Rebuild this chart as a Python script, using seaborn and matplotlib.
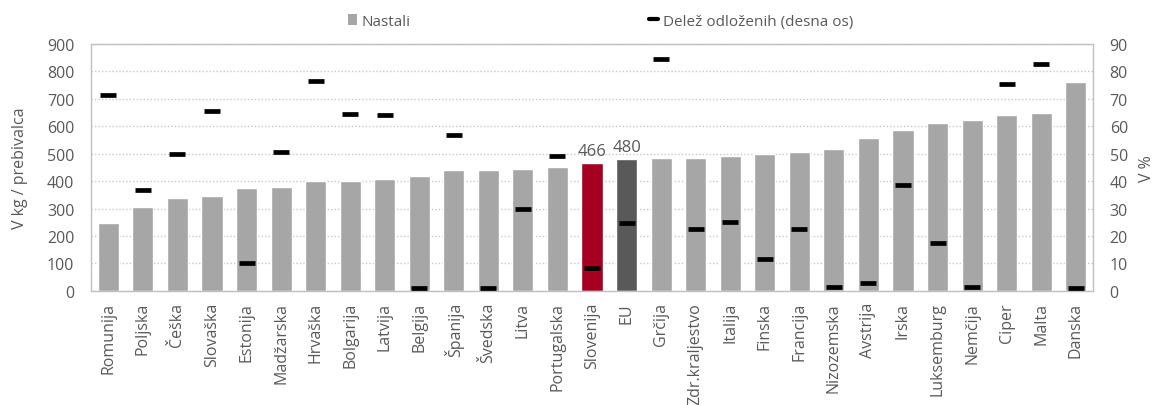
import matplotlib
matplotlib.use("Agg")
import matplotlib.pyplot as plt
from matplotlib.lines import Line2D
from matplotlib.patches import Patch
import seaborn as sns
import pandas as pd

# Municipal waste generated per capita (kg) and share landfilled (%)
countries = ["Romunija", "Poljska", "Češka", "Slovaška", "Estonija", "Madžarska",
             "Hrvaška", "Bolgarija", "Latvija", "Belgija", "Španija", "Švedska",
             "Litva", "Portugalska", "Slovenija", "EU", "Grčija", "Zdr.kraljestvo",
             "Italija", "Finska", "Francija", "Nizozemska", "Avstrija", "Irska",
             "Luksemburg", "Nemčija", "Ciper", "Malta", "Danska"]
generated = [247, 306, 339, 345, 375, 379, 401, 401, 407, 418, 440, 440, 444, 450,
             466, 480, 483, 483, 493, 500, 508, 518, 558, 585, 614, 624, 641, 647, 763]
landfilled = [71.4, 36.7, 49.9, 65.6, 10.3, 50.7, 76.7, 64.6, 64.2, 1.2, 56.8, 0.9,
              29.9, 49.3, 8.4, 24.8, 84.5, 22.7, 25.1, 11.6, 22.7, 1.5, 3.0, 38.6,
              17.3, 1.5, 75.4, 82.9, 1.1]
labelled = ["Slovenija", "EU"]

df = pd.DataFrame({"country": countries, "generated": generated, "landfilled": landfilled})

grey = "#A6A6A6"
highlight = {"Slovenija": "#A50021", "EU": "#595959"}
palette = {c: highlight.get(c, grey) for c in countries}
text_col = "#595959"

sns.set_theme(style="white")
plt.rcParams["font.family"] = ["Open Sans", "DejaVu Sans"]

fig = plt.figure(figsize=(11.57, 4.06), dpi=100)
ax = fig.add_axes([0.0787, 0.281, 0.8660, 0.608])

sns.barplot(data=df, x="country", y="generated", hue="country", palette=palette,
            order=countries, width=0.61, legend=False, ax=ax, saturation=1)
ax.set_ylim(0, 900)
ax.set_yticks(range(0, 901, 100))
ax.set_xlim(-0.5, len(countries) - 0.5)
ax.yaxis.grid(True, linestyle=(0, (1, 1.5)), color="#C8C8C8", linewidth=1.0)
ax.set_axisbelow(True)
for s in ax.spines.values():
    s.set_color("#C0C0C0")
    s.set_linewidth(1.0)
ax.tick_params(axis="y", length=0, colors=text_col, labelsize=11.5, pad=12)
ax.tick_params(axis="x", length=0, colors=text_col, labelsize=11.5, rotation=90, pad=8)
ax.set_xlabel("")
ax.set_ylabel("V kg / prebivalca", color=text_col, fontsize=11.5, labelpad=14)

for name in labelled:
    i = countries.index(name)
    val = generated[i]
    ax.text(i, val + 14, f"{val}", ha="center", va="bottom", fontsize=12, color=text_col)

ax2 = ax.twinx()
sns.scatterplot(data=df, x="country", y="landfilled", marker="_", s=145,
                linewidth=3.4, color="black", ax=ax2, zorder=5, legend=False)
ax2.set_ylim(0, 90)
ax2.set_yticks(range(0, 91, 10))
ax2.set_xlim(-0.5, len(countries) - 0.5)
ax2.grid(False)
for s in ax2.spines.values():
    s.set_visible(False)
ax2.tick_params(axis="y", length=0, colors=text_col, labelsize=11.5, pad=12)
ax2.set_ylabel("V %", color=text_col, fontsize=11.5, labelpad=8)

handles = [Patch(facecolor=grey, edgecolor="none", label="Nastali"),
           Line2D([], [], color="black", linewidth=3, label="Delež odloženih (desna os)")]
fig.legend(handles=handles, loc="center", bbox_to_anchor=(0.519, 0.945), ncol=2,
           frameon=False, fontsize=11, columnspacing=15.6, handlelength=0.6,
           handletextpad=0.3, labelcolor=text_col)

fig.savefig("out.png", dpi=100)
